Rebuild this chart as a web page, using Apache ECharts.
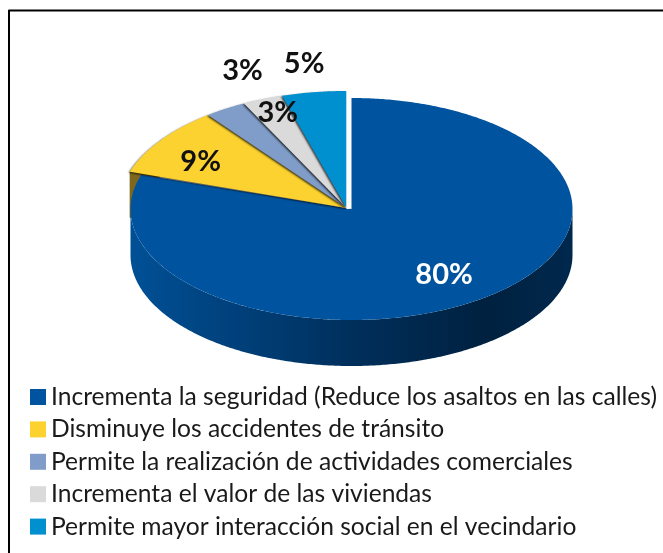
<!DOCTYPE html>
<html><head><meta charset="utf-8">
<script src="https://cdn.jsdelivr.net/npm/echarts@6/dist/echarts.min.js"></script>
<style>html,body{margin:0;padding:0;background:#fff}#c{width:663px;height:553px}</style>
</head><body><div id="c"></div>
<script>
const categories = [
  "Incrementa la seguridad (Reduce los asaltos en las calles)",
  "Disminuye los accidentes de tránsito",
  "Permite la realización de actividades comerciales",
  "Incrementa el valor de las viviendas",
  "Permite mayor interacción social en el vecindario"
];
const values = [80, 9, 3, 3, 5];
const colors = ["#00549f", "#fbd22f", "#7f9dc8", "#dadada", "#0090d0"];
const labelColors = ["#ffffff", "#111111", "#111111", "#111111", "#111111"];

// drawing geometry (not data)
const MAIN = {cx: 351.5, cy: 209, rx: 221, ry: 111};
const EXPL = {cx: 346.5, cy: 208, rx: 228, ry: 117, warp: 0.038};
const DEPTH = 46;
const NUDGE = [[-1,1],[-5,5],[17,-38],[15,13],[-10,-29]];
const LABEL_R = [0.72, 0.76, 1, 1, 1];
const total = values.reduce((a, b) => a + b, 0);
const startPct = values.map((_, i) => values.slice(0, i).reduce((a, b) => a + b, 0));

function pt(g, t, r) {
  r = r === undefined ? 1 : r;
  // slight perspective correction of the exploded slices' rim
  const w = g.warp ? g.warp * Math.sin((2 * Math.PI - t) * 2.5) : 0;
  const u = t + w;
  return [g.cx + g.rx * r * Math.sin(u), g.cy - g.ry * r * Math.cos(u)];
}
function arc(g, a, b) {
  const out = [], n = Math.max(2, Math.ceil(Math.abs(b - a) / 0.01));
  for (let k = 0; k <= n; k++) out.push(pt(g, a + (b - a) * k / n));
  return out;
}
function renderSlice(i) {
  return function (params, api) {
    const v = api.value(0);
    const a = startPct[i] / total * 2 * Math.PI;
    const b = a + v / total * 2 * Math.PI;
    const g = i === 0 ? MAIN : EXPL;
    const top = [[g.cx, g.cy]].concat(arc(g, a, b));
    const kids = [];
    if (i === 0) {
      const bottom = arc(MAIN, Math.PI / 2, 3 * Math.PI / 2);
      const wall = bottom.concat(bottom.slice().reverse().map(p => [p[0], p[1] + DEPTH]));
      kids.push({type: 'polygon', z2: 1, shape: {points: wall}, style: {
        fill: new echarts.graphic.LinearGradient(1, 0, 0, 0, [
          {offset: 0, color: '#00284d'}, {offset: 0.2, color: '#00213f'},
          {offset: 0.5, color: '#002f5c'}, {offset: 1, color: '#005096'}])
      }});
    }
    if (i === 1) {
      const s = pt(EXPL, a);
      kids.push({type: 'polygon', z2: 0, shape: {
        points: [s, [s[0], s[1] + DEPTH], [s[0] + 30, s[1] + DEPTH], [s[0] + 30, s[1]]]
      }, style: {fill: '#7d671c'}});
    }
    const style = {fill: colors[i]};
    if (i > 0) {
      style.shadowColor = 'rgba(0,0,0,0.75)';
      style.shadowBlur = 2;
      style.shadowOffsetX = -1;
      style.shadowOffsetY = 1;
    }
    kids.push({type: 'polygon', z2: 2 + i, shape: {points: top}, style: style});
    if (i === 4) {
      const e = pt(EXPL, b);
      kids.push({type: 'line', z2: 8, shape: {x1: e[0] + 1.5, y1: e[1], x2: e[0] + 1.5, y2: EXPL.cy + 1},
        style: {stroke: '#ffffff', lineWidth: 3}});
    }
    const mid = (a + b) / 2, p = pt(g, mid, LABEL_R[i]);
    kids.push({type: 'text', z2: 20, style: {
      text: v + '%', x: p[0] + NUDGE[i][0], y: p[1] + NUDGE[i][1],
      align: 'center', verticalAlign: 'middle',
      fill: labelColors[i], font: 'bold 29px Lato'
    }});
    return {type: 'group', children: kids};
  };
}

const chart = echarts.init(document.getElementById('c'), null, {renderer: 'canvas'});
chart.setOption({
  animation: false,
  backgroundColor: '#ffffff',
  legend: {
    orient: 'vertical', left: 30, top: 384.5,
    icon: 'rect', itemWidth: 16, itemHeight: 16, itemGap: 7.4,
    padding: 0, selectedMode: false,
    data: categories,
    textStyle: {fontFamily: 'Lato', fontSize: 24.6, color: '#1a1a1a'}
  },
  graphic: [
    {type: 'line', shape: {x1: 8.5, y1: 10.5, x2: 663, y2: 10.5}, style: {stroke: '#000', lineWidth: 2}},
    {type: 'line', shape: {x1: 9, y1: 10, x2: 9, y2: 553}, style: {stroke: '#000', lineWidth: 2}}
  ],
  series: categories.map((name, i) => ({
    type: 'custom', name: name, coordinateSystem: 'none',
    itemStyle: {color: colors[i]},
    renderItem: renderSlice(i),
    data: [[values[i]]]
  }))
});
</script></body></html>
